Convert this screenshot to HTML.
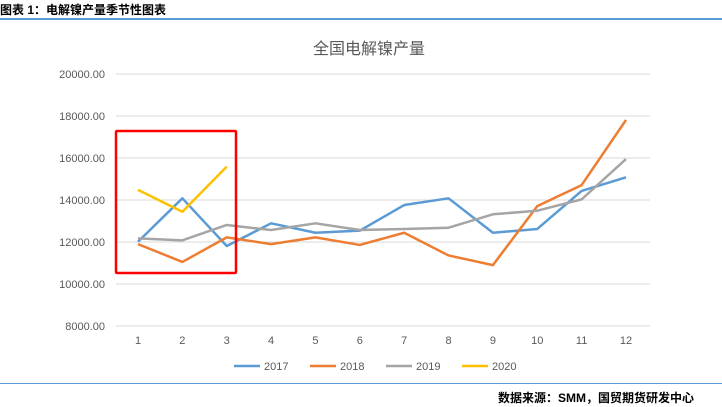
<!DOCTYPE html>
<html><head><meta charset="utf-8"><style>
body{margin:0;width:722px;height:407px;background:#fff;overflow:hidden;font-family:"Liberation Sans","Noto Sans CJK SC",sans-serif;position:relative}
.hdr{position:absolute;left:0;top:1px;font-size:12px;font-weight:bold;color:#000}
.src{position:absolute;right:28px;top:389px;font-size:12px;font-weight:bold;color:#000}
</style></head><body>
<div class="hdr">图表 1：电解镍产量季节性图表</div>
<div style="position:absolute;left:0;top:18px;width:722px;height:2px;background:#5b9bd5"></div>
<div style="position:absolute;left:0;top:383px;width:722px;height:1px;background:#5b9bd5"></div>
<div class="src">数据来源：SMM，国贸期货研发中心</div>
<svg id="chart" width="722" height="407" style="position:absolute;left:0;top:0">
<text x="369" y="54" text-anchor="middle" font-size="16" fill="#595959">全国电解镍产量</text>
</svg>
<script>
const categories=["1","2","3","4","5","6","7","8","9","10","11","12"];
const yTicks=[8000,10000,12000,14000,16000,18000,20000];
const s2017=[12010,14080,11810,12890,12440,12540,13760,14080,12440,12620,14430,15080];
const s2018=[11900,11050,12220,11900,12220,11860,12440,11360,10900,13710,14710,17810];
const s2019=[12170,12080,12810,12570,12890,12570,12620,12680,13320,13490,14030,15950];
const s2020=[14480,13440,15590];
const seriesNames=["2017","2018","2019","2020"];
const colors=["#5b9bd5","#ed7d31","#a5a5a5","#ffc000"];
const svg=document.getElementById('chart');const NS="http://www.w3.org/2000/svg";
function y(v){return 326-(v-8000)/12000*252;}
function x(i){return 138+i*(626-138)/11;}
function mk(t,a){const e=document.createElementNS(NS,t);for(const k in a)e.setAttribute(k,a[k]);svg.appendChild(e);return e;}
yTicks.forEach(v=>{const l=mk('line',{x1:116,x2:650,y1:y(v),y2:y(v),stroke:'#d9d9d9','stroke-width':1});


const t=mk('text',{x:105,y:y(v)+4,'text-anchor':'end','font-size':11,fill:'#595959'});t.textContent=v.toFixed(2);

});
categories.forEach((c,i)=>{const t=mk('text',{x:x(i),y:344,'text-anchor':'middle','font-size':11,fill:'#595959'});t.textContent=c;

});
[s2017,s2018,s2019,s2020].forEach((s,k)=>{const p=mk('polyline',{points:s.map((v,i)=>x(i)+','+y(v)).join(' '),fill:'none',stroke:colors[k],'stroke-width':2.5,'stroke-linejoin':'round'});

});
seriesNames.forEach((n,k)=>{const lx=234+k*76;const l=mk('line',{x1:lx,x2:lx+26,y1:366,y2:366,stroke:colors[k],'stroke-width':2.5});


const t=mk('text',{x:lx+30,y:370,'font-size':11,fill:'#595959'});t.textContent=n;

});
const r=mk('rect',{x:116,y:131,width:120,height:142,fill:'none',stroke:'#ff0000','stroke-width':2.5,rx:1});


</script>
</body></html>
